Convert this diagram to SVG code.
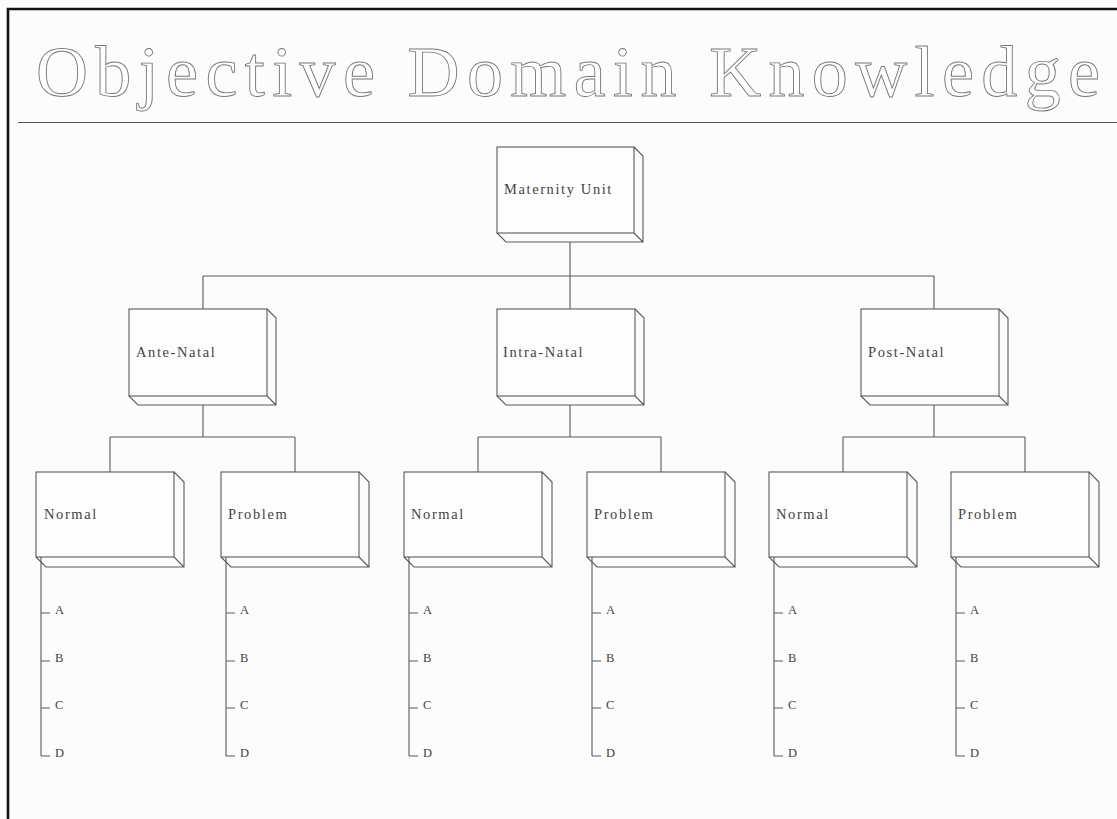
<svg xmlns="http://www.w3.org/2000/svg" width="1117" height="819" viewBox="0 0 1117 819">
<style>
.ln{fill:none;stroke:#5a5a5a;stroke-width:1.1}
.fr{fill:#fdfdfd;stroke:#5a5a5a;stroke-width:1.1}
.lbl{font-family:"Liberation Serif",serif;font-size:14.5px;letter-spacing:1.6px;fill:#444}
.sub{font-family:"Liberation Serif",serif;font-size:12.5px;fill:#444}
.title{font-family:"Liberation Serif",serif;font-size:72px;fill:#fff;stroke:#777;stroke-width:0.9}
</style>
<rect x="0" y="0" width="1117" height="819" fill="#fcfcfc"/>
<path d="M8,819 V9 H1117" fill="none" stroke="#111" stroke-width="2.6"/>
<g id="title">
<text class="title" x="36" y="96" textLength="1064" lengthAdjust="spacing">Objective Domain Knowledge</text>
<line x1="18" y1="122.5" x2="1117" y2="122.5" stroke="#555" stroke-width="1.1"/>
</g>
<g id="connectors" class="ln">
<path d="M570,242 V276 M203,276 H934 M203,276 V309 M570,276 V309 M934,276 V309"/>
<path d="M203,405 V437 M110,437 H295 M110,437 V472 M295,437 V472"/>
<path d="M570,405 V437 M478,437 H661 M478,437 V472 M661,437 V472"/>
<path d="M934,405 V437 M843,437 H1025 M843,437 V472 M1025,437 V472"/>
</g>
<g id="maternity">
<rect class="fr" x="497" y="147" width="137" height="86"/>
<path class="ln" d="M634,147 L643,156 V242 H506 L497,233 M634,233 L643,242"/>
<text class="lbl" x="504" y="194">Maternity Unit</text>
</g>
<g id="ante-natal">
<rect class="fr" x="129" y="309" width="138" height="87"/>
<path class="ln" d="M267,309 L276,318 V405 H138 L129,396 M267,396 L276,405"/>
<text class="lbl" x="136" y="357">Ante-Natal</text>
</g>
<g id="intra-natal">
<rect class="fr" x="497" y="309" width="138" height="87"/>
<path class="ln" d="M635,309 L644,318 V405 H506 L497,396 M635,396 L644,405"/>
<text class="lbl" x="503" y="357">Intra-Natal</text>
</g>
<g id="post-natal">
<rect class="fr" x="861" y="309" width="138" height="87"/>
<path class="ln" d="M999,309 L1008,318 V405 H870 L861,396 M999,396 L1008,405"/>
<text class="lbl" x="868" y="357">Post-Natal</text>
</g>
<g id="ante-normal">
<rect class="fr" x="36" y="472" width="138" height="85"/>
<path class="ln" d="M174,472 L184,482 V567 H46 L36,557 M174,557 L184,567"/>
<text class="lbl" x="44" y="519">Normal</text>
<path class="ln" d="M41,557 V756 M41,613 H50 M41,661 H50 M41,708 H50 M41,756 H50"/>
<text class="sub" x="55" y="614">A</text><text class="sub" x="55" y="662">B</text><text class="sub" x="55" y="709">C</text><text class="sub" x="55" y="757">D</text>
</g>
<g id="ante-problem">
<rect class="fr" x="221" y="472" width="138" height="85"/>
<path class="ln" d="M359,472 L369,482 V567 H231 L221,557 M359,557 L369,567"/>
<text class="lbl" x="228" y="519">Problem</text>
<path class="ln" d="M226,557 V756 M226,613 H235 M226,661 H235 M226,708 H235 M226,756 H235"/>
<text class="sub" x="240" y="614">A</text><text class="sub" x="240" y="662">B</text><text class="sub" x="240" y="709">C</text><text class="sub" x="240" y="757">D</text>
</g>
<g id="intra-normal">
<rect class="fr" x="404" y="472" width="138" height="85"/>
<path class="ln" d="M542,472 L552,482 V567 H414 L404,557 M542,557 L552,567"/>
<text class="lbl" x="411" y="519">Normal</text>
<path class="ln" d="M409,557 V756 M409,613 H418 M409,661 H418 M409,708 H418 M409,756 H418"/>
<text class="sub" x="423" y="614">A</text><text class="sub" x="423" y="662">B</text><text class="sub" x="423" y="709">C</text><text class="sub" x="423" y="757">D</text>
</g>
<g id="intra-problem">
<rect class="fr" x="587" y="472" width="138" height="85"/>
<path class="ln" d="M725,472 L735,482 V567 H597 L587,557 M725,557 L735,567"/>
<text class="lbl" x="594" y="519">Problem</text>
<path class="ln" d="M592,557 V756 M592,613 H601 M592,661 H601 M592,708 H601 M592,756 H601"/>
<text class="sub" x="606" y="614">A</text><text class="sub" x="606" y="662">B</text><text class="sub" x="606" y="709">C</text><text class="sub" x="606" y="757">D</text>
</g>
<g id="post-normal">
<rect class="fr" x="769" y="472" width="138" height="85"/>
<path class="ln" d="M907,472 L917,482 V567 H779 L769,557 M907,557 L917,567"/>
<text class="lbl" x="776" y="519">Normal</text>
<path class="ln" d="M774,557 V756 M774,613 H783 M774,661 H783 M774,708 H783 M774,756 H783"/>
<text class="sub" x="788" y="614">A</text><text class="sub" x="788" y="662">B</text><text class="sub" x="788" y="709">C</text><text class="sub" x="788" y="757">D</text>
</g>
<g id="post-problem">
<rect class="fr" x="951" y="472" width="138" height="85"/>
<path class="ln" d="M1089,472 L1099,482 V567 H961 L951,557 M1089,557 L1099,567"/>
<text class="lbl" x="958" y="519">Problem</text>
<path class="ln" d="M956,557 V756 M956,613 H965 M956,661 H965 M956,708 H965 M956,756 H965"/>
<text class="sub" x="970" y="614">A</text><text class="sub" x="970" y="662">B</text><text class="sub" x="970" y="709">C</text><text class="sub" x="970" y="757">D</text>
</g>
</svg>
